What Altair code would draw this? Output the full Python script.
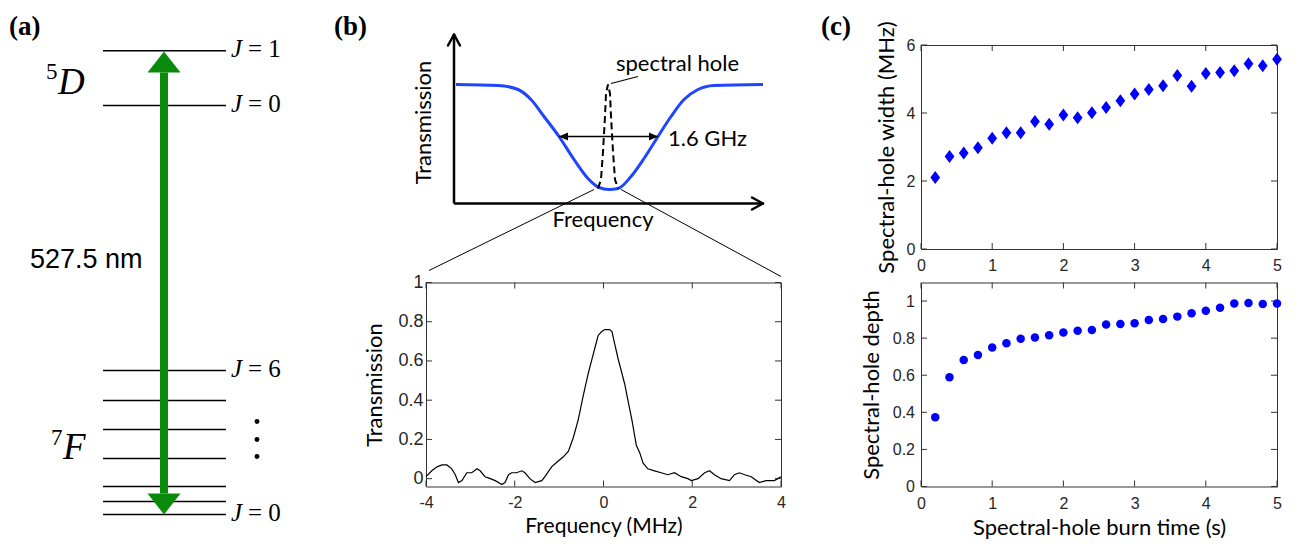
import altair as alt
import pandas as pd

# ======================= DATA =======================
# (a) Eu3+ energy-level diagram (diagram energy units, bottom level = 0 reference)
level_energy = [471.2, 416.5, 151.5, 121.5, 92.5, 63.5, 35.5, 20.5, 7.5]
j_label_energy = [471.2, 416.5, 151.5, 7.5]
j_label_value = ["1", "0", "6", "0"]
term_letter = ["D", "F"]
term_multiplicity = ["5", "7"]
term_energy = [428.5, 63.5]
multiplicity_energy = [443.5, 77.5]
ellipsis_energy = [100.5, 82.5, 65.5]
transition_tips = [470.5, 7.5]
transition_label = "527.5 nm"

# (b) schematic absorption line with spectral hole (arb. units)
sch_freq = [30, 72, 92, 105, 118, 133, 148, 162, 173, 183, 192, 205, 218, 232, 245, 258, 272, 288, 337]
sch_trans = [146.5, 145.5, 141.5, 131.5, 114.5, 94.5, 71.5, 52.5, 43.5, 41.5, 42.5, 54.5,
             72.5, 94.5, 114.5, 131.5, 141.5, 145.5, 146.5]
hole_freq = [172, 175, 177, 179, 180, 182, 184, 185, 187, 189, 192]
hole_trans = [42.5, 51.5, 79.5, 114.5, 137.5, 146.5, 137.5, 114.5, 79.5, 51.5, 42.5]
fwhm_ends = [133, 232]
fwhm_level = 94.5
fwhm_label = "1.6 GHz"

# (b) measured spectral hole
freq_mhz = [-4.00, -3.87, -3.75, -3.64, -3.53, -3.42, -3.34, -3.27, -3.19, -3.08, -2.97, -2.85,
            -2.78, -2.67, -2.55, -2.44, -2.29, -2.22, -2.14, -2.07, -1.96, -1.84, -1.77, -1.66,
            -1.54, -1.39, -1.32, -1.17, -1.02, -0.91, -0.79, -0.68, -0.57, -0.46, -0.34, -0.27,
            -0.19, -0.12, -0.04, 0.03, 0.14, 0.19, 0.25, 0.33, 0.40, 0.48, 0.55, 0.64, 0.74,
            0.82, 0.89, 1.00, 1.15, 1.30, 1.45, 1.60, 1.75, 1.90, 1.98, 2.13, 2.28, 2.39, 2.50,
            2.65, 2.84, 2.95, 3.06, 3.18, 3.33, 3.51, 3.66, 3.85, 4.00]
transmission = [0.01, 0.04, 0.06, 0.07, 0.07, 0.05, 0.02, -0.02, -0.01, 0.03, 0.03, 0.05,
                0.04, 0.01, 0.00, -0.01, -0.03, -0.02, 0.02, 0.03, 0.03, 0.04, 0.03, 0.00,
                -0.02, -0.01, 0.01, 0.06, 0.09, 0.11, 0.14, 0.21, 0.30, 0.42, 0.54, 0.60,
                0.67, 0.73, 0.75, 0.76, 0.76, 0.75, 0.69, 0.61, 0.55, 0.48, 0.40, 0.30, 0.17,
                0.13, 0.08, 0.05, 0.04, 0.03, 0.02, 0.03, 0.01, 0.00, -0.01, 0.00, 0.03, 0.04,
                0.02, 0.00, -0.01, 0.02, 0.03, 0.02, 0.01, -0.02, -0.01, -0.01, 0.01]

# (c) burn-time dependence
burn_time = [0.2, 0.4, 0.6, 0.8, 1.0, 1.2, 1.4, 1.6, 1.8, 2.0, 2.2, 2.4, 2.6,
             2.8, 3.0, 3.2, 3.4, 3.6, 3.8, 4.0, 4.2, 4.4, 4.6, 4.8, 5.0]
hole_width = [2.10, 2.72, 2.82, 2.98, 3.26, 3.42, 3.42, 3.75, 3.67, 3.94, 3.86, 4.01, 4.16,
              4.36, 4.56, 4.69, 4.80, 5.10, 4.79, 5.16, 5.19, 5.24, 5.45, 5.39, 5.58]
hole_depth = [0.373, 0.589, 0.682, 0.709, 0.749, 0.772, 0.797, 0.804, 0.815, 0.831, 0.840,
              0.844, 0.874, 0.876, 0.880, 0.898, 0.903, 0.916, 0.934, 0.948, 0.964, 0.987,
              0.989, 0.984, 0.987]

# tick values
bb_xticks = [-4, -2, 0, 2, 4]
bb_yticks = [0, 0.2, 0.4, 0.6, 0.8, 1]
c_xticks = [0, 1, 2, 3, 4, 5]
ct_yticks = [0, 2, 4, 6]
cb_yticks = [0, 0.2, 0.4, 0.6, 0.8, 1]

# ======================= STYLE / GEOMETRY =======================
SERIF = "Liberation Serif"
SANS = "Liberation Sans"
HUM = "Lato"
GREEN = "#0b8b0b"
CURVE_BLUE = "#1f45ff"
MARK_BLUE = "#0000ff"
FRAME = "#333333"
LABEL_C = "#262626"
TICK_LEN = 6

ROW1_H = 204
ROW2_H = 204
A_W, A_SPAN = 277, 477
B_W, B_SPAN = 355, 186
C_W = 356
TOP_MARGIN = 35.5      # space above first row reserved for panel letters
LETTER_BASE = 10.5     # panel letter baseline above first row
LETTER_SIZE = 27

LEV_X0, LEV_X1 = 94, 217
ARROW_X = 155
HEAD_H = 21
J_X, EQ_X = 222, 239
DOTS_X = 248

# ======================= PANEL (a) =======================
AX = alt.Scale(domain=[0, A_W])
AY = alt.Scale(domain=[0, A_SPAN], range=[A_SPAN, 0])


def ax_x():
    return alt.X("x:Q", scale=AX, axis=None)


def ax_y():
    return alt.Y("y:Q", scale=AY, axis=None)


def a_text(df, **mk):
    return alt.Chart(df).mark_text(**mk).encode(x=ax_x(), y=ax_y(), text="t:N")


# invisible anchor fixing the top-left corner of the whole figure
anchor = alt.Chart(pd.DataFrame({"x": [0.5], "y": [A_SPAN + TOP_MARGIN - 0.5]})).mark_point(
    size=1, opacity=0, filled=True, strokeWidth=0).encode(x=ax_x(), y=ax_y())

levels = alt.Chart(pd.DataFrame({"x": LEV_X0, "x2": LEV_X1, "y": level_energy})).mark_rule(
    color="black", strokeWidth=1.5).encode(x=ax_x(), x2="x2:Q", y=ax_y())

shaft = alt.Chart(pd.DataFrame({"x": [ARROW_X], "y": [transition_tips[1] + HEAD_H],
                                "y2": [transition_tips[0] - HEAD_H]})).mark_rule(
    color=GREEN, strokeWidth=8).encode(x=ax_x(), y=ax_y(), y2="y2:Q")

UP = "M0,-0.64L1,0.64L-1,0.64Z"
DOWN = "M0,0.64L1,-0.64L-1,-0.64Z"
head_up = alt.Chart(pd.DataFrame({"x": [ARROW_X], "y": [transition_tips[0] - HEAD_H / 2]})).mark_point(
    shape=UP, filled=True, color=GREEN, size=1089, opacity=1, strokeWidth=0).encode(x=ax_x(), y=ax_y())
head_down = alt.Chart(pd.DataFrame({"x": [ARROW_X], "y": [transition_tips[1] + HEAD_H / 2]})).mark_point(
    shape=DOWN, filled=True, color=GREEN, size=1089, opacity=1, strokeWidth=0).encode(x=ax_x(), y=ax_y())

j_df = pd.DataFrame({"x": J_X, "y": [e - 6 for e in j_label_energy], "t": "J"})
eq_df = pd.DataFrame({"x": EQ_X, "y": [e - 6 for e in j_label_energy],
                      "t": ["= " + v for v in j_label_value]})
j_txt = a_text(j_df, font=SERIF, fontStyle="italic", fontSize=25, align="left",
               baseline="alphabetic", color="black")
eq_txt = a_text(eq_df, font=SERIF, fontSize=25, align="left", baseline="alphabetic", color="black")

term_txt = a_text(pd.DataFrame({"x": [49, 54], "y": term_energy, "t": term_letter}),
                  font=SERIF, fontStyle="italic", fontSize=37, align="left",
                  baseline="alphabetic", color="black")
mult_txt = a_text(pd.DataFrame({"x": [37, 42], "y": multiplicity_energy, "t": term_multiplicity}),
                  font=SERIF, fontSize=23, align="left", baseline="alphabetic", color="black")
wl_txt = a_text(pd.DataFrame({"x": [21], "y": [254.5], "t": [transition_label]}),
                font=SANS, fontSize=27, align="left", baseline="alphabetic", color="black")
dots = alt.Chart(pd.DataFrame({"x": DOTS_X, "y": ellipsis_energy})).mark_circle(
    size=24, color="black", opacity=1).encode(x=ax_x(), y=ax_y())
a_lab = a_text(pd.DataFrame({"x": [0], "y": [A_SPAN + LETTER_BASE], "t": ["(a)"]}),
               font=SERIF, fontWeight="bold", fontSize=LETTER_SIZE, align="left",
               baseline="alphabetic", color="black")

panel_a = alt.layer(anchor, levels, shaft, head_up, head_down, j_txt, eq_txt, term_txt, mult_txt,
                    wl_txt, dots, a_lab).properties(
    width=A_W, height=ROW1_H, view=alt.ViewBackground(stroke="transparent"))

# ======================= PANEL (b) top: schematic =======================
BX = alt.Scale(domain=[0, B_W])
BY = alt.Scale(domain=[0, B_SPAN], range=[B_SPAN, 0])


def bx_x():
    return alt.X("x:Q", scale=BX, axis=None)


def bx_y():
    return alt.Y("y:Q", scale=BY, axis=None)


def b_text(df, **mk):
    return alt.Chart(df).mark_text(**mk).encode(x=bx_x(), y=bx_y(), text="t:N")


AX_ORIGIN = (28, 27.5)
AX_TOP = 196.5
AX_RIGHT = 337
CHEV_L, CHEV_W = 11, 6

axes_df = pd.DataFrame({"x": [AX_ORIGIN[0], AX_ORIGIN[0]], "x2": [AX_ORIGIN[0], AX_RIGHT],
                        "y": [AX_ORIGIN[1], AX_ORIGIN[1]], "y2": [AX_TOP, AX_ORIGIN[1]]})
axes_lines = alt.Chart(axes_df).mark_rule(color="black", strokeWidth=2.5).encode(
    x=bx_x(), x2="x2:Q", y=bx_y(), y2="y2:Q")
chev_df = pd.DataFrame({
    "x": [AX_ORIGIN[0]] * 2 + [AX_RIGHT] * 2,
    "y": [AX_TOP] * 2 + [AX_ORIGIN[1]] * 2,
    "x2": [AX_ORIGIN[0] - CHEV_W, AX_ORIGIN[0] + CHEV_W, AX_RIGHT - CHEV_L, AX_RIGHT - CHEV_L],
    "y2": [AX_TOP - CHEV_L, AX_TOP - CHEV_L, AX_ORIGIN[1] + CHEV_W, AX_ORIGIN[1] - CHEV_W],
})
axis_heads = alt.Chart(chev_df).mark_rule(color="black", strokeWidth=2.5, strokeCap="round").encode(
    x=bx_x(), x2="x2:Q", y=bx_y(), y2="y2:Q")

sch_curve = alt.Chart(pd.DataFrame({"x": sch_freq, "y": sch_trans})).mark_line(
    color=CURVE_BLUE, strokeWidth=3, interpolate="monotone").encode(x=bx_x(), y=bx_y())
hole_curve = alt.Chart(pd.DataFrame({"x": hole_freq, "y": hole_trans})).mark_line(
    color="black", strokeWidth=2, strokeDash=[7, 4]).encode(x=bx_x(), y=bx_y())

pointer = alt.Chart(pd.DataFrame({"x": [185], "x2": [212], "y": [147.5], "y2": [154.5]})).mark_rule(
    color="black", strokeWidth=1.2).encode(x=bx_x(), x2="x2:Q", y=bx_y(), y2="y2:Q")

fwhm_line = alt.Chart(pd.DataFrame({"x": [fwhm_ends[0]], "x2": [fwhm_ends[1]], "y": [fwhm_level]})).mark_rule(
    color="black", strokeWidth=1.5).encode(x=bx_x(), x2="x2:Q", y=bx_y())
LEFT_HEAD = "M0,0L1,-0.45L1,0.45Z"
RIGHT_HEAD = "M0,0L-1,-0.45L-1,0.45Z"
fwhm_head_l = alt.Chart(pd.DataFrame({"x": [fwhm_ends[0]], "y": [fwhm_level]})).mark_point(
    shape=LEFT_HEAD, filled=True, color="black", size=324, strokeWidth=0, opacity=1).encode(
    x=bx_x(), y=bx_y())
fwhm_head_r = alt.Chart(pd.DataFrame({"x": [fwhm_ends[1]], "y": [fwhm_level]})).mark_point(
    shape=RIGHT_HEAD, filled=True, color="black", size=324, strokeWidth=0, opacity=1).encode(
    x=bx_x(), y=bx_y())

cone = alt.Chart(pd.DataFrame({"x": [168, 195], "x2": [3, 355], "y": [41.5, 41.5],
                               "y2": [-39.5, -45.5]})).mark_rule(
    color="black", strokeWidth=1).encode(x=bx_x(), x2="x2:Q", y=bx_y(), y2="y2:Q")

b_texts = [
    b_text(pd.DataFrame({"x": [190], "y": [167.5], "t": ["spectral hole"]}),
           font=HUM, fontSize=22, align="left", baseline="middle", color="black"),
    b_text(pd.DataFrame({"x": [242], "y": [92.5], "t": [fwhm_label]}),
           font=HUM, fontSize=22, align="left", baseline="middle", color="black"),
    b_text(pd.DataFrame({"x": [177], "y": [11.5], "t": ["Frequency"]}),
           font=HUM, fontSize=22, align="center", baseline="middle", color="black"),
    b_text(pd.DataFrame({"x": [-2], "y": [108.5], "t": ["Transmission"]}),
           font=HUM, fontSize=22, align="center", baseline="middle", angle=270, color="black"),
    b_text(pd.DataFrame({"x": [-92], "y": [B_SPAN + LETTER_BASE], "t": ["(b)"]}),
           font=SERIF, fontWeight="bold", fontSize=LETTER_SIZE, align="left",
           baseline="alphabetic", color="black"),
]

panel_b_top = alt.layer(cone, axes_lines, axis_heads, sch_curve, hole_curve, pointer, fwhm_line,
                        fwhm_head_l, fwhm_head_r, *b_texts).properties(
    width=B_W, height=ROW1_H, view=alt.ViewBackground(stroke="transparent"))


# ======================= framed data panels =======================
def boxed(marks, xdef, ydef, xticks, yticks, W, H):
    L = TICK_LEN
    tx = alt.Chart(pd.DataFrame({"x": xticks})).mark_rule(color=FRAME, strokeWidth=1)
    ty = alt.Chart(pd.DataFrame({"y": yticks})).mark_rule(color=FRAME, strokeWidth=1)
    t_b = tx.encode(x=xdef, y=alt.value(H), y2=alt.value(H - L))
    t_t = tx.encode(x=xdef, y=alt.value(0), y2=alt.value(L))
    t_l = ty.encode(y=ydef, x=alt.value(0), x2=alt.value(L))
    t_r = ty.encode(y=ydef, x=alt.value(W), x2=alt.value(W - L))
    return alt.layer(t_b, t_t, t_l, t_r, *marks).properties(
        width=W, height=H, view=alt.ViewBackground(stroke=FRAME, strokeWidth=1))


def mk_axis(values, lsize, lpad, title=None, tpad=0, tsize=22):
    kw = dict(values=values, ticks=False, tickSize=0, domain=False, grid=False,
              labelFont=SANS, labelFontSize=lsize, labelColor=LABEL_C, labelPadding=lpad,
              labelFlush=False, labelOverlap=False, labelExpr="toString(datum.value)")
    if title is not None:
        kw.update(titleFont=HUM, titleFontSize=tsize, titleFontWeight="normal",
                  titleColor="black", titlePadding=tpad)
    return alt.Axis(**kw)


# (b) bottom: measured hole
bb_x = alt.X("x:Q", scale=alt.Scale(domain=[-4, 4], nice=False),
             axis=mk_axis(bb_xticks, 16, 8, "Frequency (MHz)", 5, 21), title="Frequency (MHz)")
bb_y = alt.Y("y:Q", scale=alt.Scale(domain=[-0.04, 1], nice=False),
             axis=mk_axis(bb_yticks, 18, 3, "Transmission", 11), title="Transmission")
trace = alt.Chart(pd.DataFrame({"x": freq_mhz, "y": transmission})).mark_line(
    color="black", strokeWidth=1.2).encode(x=bb_x, y=bb_y)
panel_b_bot = boxed([trace], bb_x, bb_y, bb_xticks, bb_yticks, B_W, ROW2_H)

# (c) top: hole width
DIAMOND = "M0,-1L0.75,0L0,1L-0.75,0Z"
ct_x = alt.X("x:Q", scale=alt.Scale(domain=[0, 5], nice=False), axis=mk_axis(c_xticks, 16, 8.5),
             title=None)
ct_y = alt.Y("y:Q", scale=alt.Scale(domain=[0, 6], nice=False),
             axis=mk_axis(ct_yticks, 16, 6, "Spectral-hole width (MHz)", 8),
             title="Spectral-hole width (MHz)")
width_pts = alt.Chart(pd.DataFrame({"x": burn_time, "y": hole_width})).mark_point(
    shape=DIAMOND, filled=True, size=169, color=MARK_BLUE, opacity=1, strokeWidth=0).encode(
    x=ct_x, y=ct_y)
c_lab = alt.Chart(pd.DataFrame({"t": ["(c)"]})).mark_text(
    font=SERIF, fontWeight="bold", fontSize=LETTER_SIZE, align="left", baseline="alphabetic",
    color="black").encode(x=alt.value(-100), y=alt.value(-LETTER_BASE), text="t:N")
panel_c_top = boxed([width_pts, c_lab], ct_x, ct_y, c_xticks, ct_yticks, C_W, ROW1_H)

# (c) bottom: hole depth
cb_x = alt.X("x:Q", scale=alt.Scale(domain=[0, 5], nice=False),
             axis=mk_axis(c_xticks, 16, 8.5, "Spectral-hole burn time (s)", 6),
             title="Spectral-hole burn time (s)")
cb_y = alt.Y("y:Q", scale=alt.Scale(domain=[0, 1.1], nice=False),
             axis=mk_axis(cb_yticks, 16, 6.5, "Spectral-hole depth", 9),
             title="Spectral-hole depth")
depth_pts = alt.Chart(pd.DataFrame({"x": burn_time, "y": hole_depth})).mark_circle(
    size=72, color=MARK_BLUE, opacity=1).encode(x=cb_x, y=cb_y)
panel_c_bot = boxed([depth_pts], cb_x, cb_y, c_xticks, cb_yticks, C_W, ROW2_H)

# empty cell under panel (a)
placeholder = alt.Chart(pd.DataFrame({"x": [0]})).mark_point(
    opacity=0, size=1, strokeWidth=0, filled=True).encode(
    x=alt.value(20), y=alt.value(20)).properties(
    width=A_W, height=ROW2_H, view=alt.ViewBackground(stroke="transparent"))

chart = alt.concat(panel_a, panel_b_top, panel_c_top, placeholder, panel_b_bot, panel_c_bot,
                   columns=3, spacing={"row": 33.5, "column": 140}, bounds="flush").properties(
    padding=0).configure(background="white")

chart.save("out.html", embed_options={"renderer": "svg", "actions": False})
